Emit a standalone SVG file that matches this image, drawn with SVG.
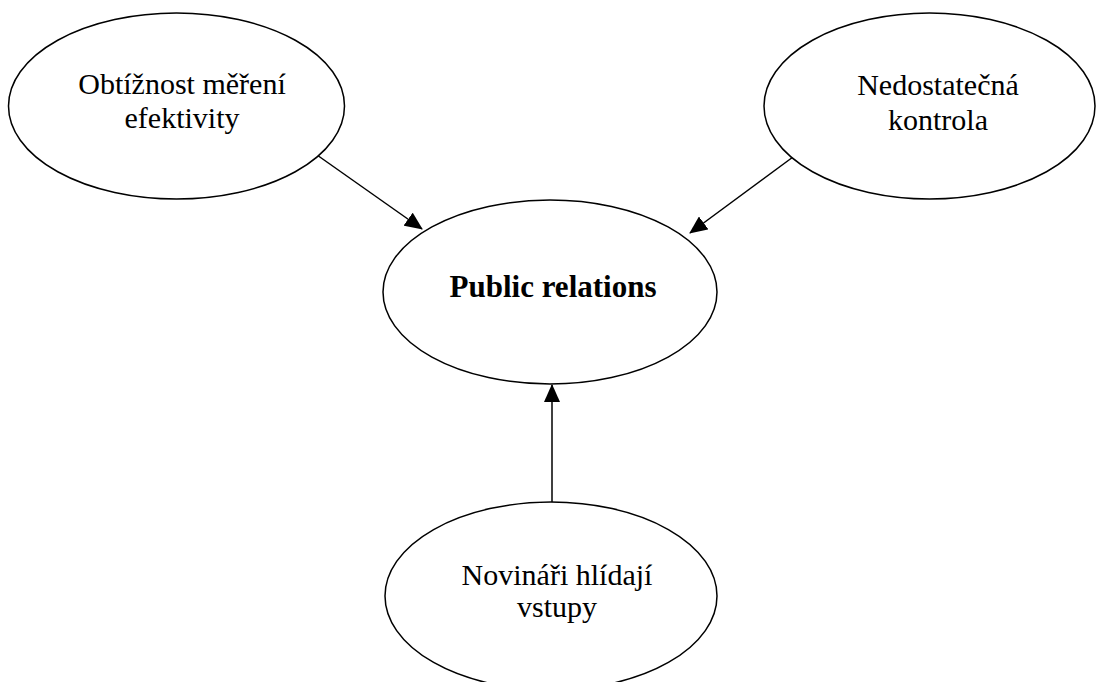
<svg xmlns="http://www.w3.org/2000/svg" width="1097" height="682" viewBox="0 0 1097 682">
  <style>
    .node ellipse { fill: #ffffff; stroke: #000000; stroke-width: 1.5; }
    .lbl { font-family: "Liberation Serif", "Times New Roman", serif; font-size: 30px; fill: #000000; text-anchor: middle; }
    .bold { font-weight: bold; font-size: 31px; }
    .conn line { stroke: #000000; stroke-width: 1.5; fill: none; marker-end: url(#arrow); }
  </style>
  <defs>
    <marker id="arrow" markerUnits="userSpaceOnUse" markerWidth="18" markerHeight="16" refX="17" refY="8" orient="auto">
      <path d="M0,0 L18,8 L0,16 Z" fill="#000000"/>
    </marker>
  </defs>
  <rect width="1097" height="682" fill="#ffffff"/>

  <g id="connectors" class="conn">
    <line x1="317" y1="155" x2="422" y2="229"/>
    <line x1="793" y1="157" x2="690" y2="233"/>
    <line x1="552" y1="502" x2="552" y2="385"/>
  </g>

  <g id="node-obtiznost" class="node">
    <ellipse cx="176.5" cy="106" rx="168" ry="93"/>
    <text class="lbl" x="182" y="94">Obtížnost měření</text>
    <text class="lbl" x="182" y="128">efektivity</text>
  </g>

  <g id="node-kontrola" class="node">
    <ellipse cx="929.5" cy="106" rx="165.5" ry="93"/>
    <text class="lbl" x="938" y="95">Nedostatečná</text>
    <text class="lbl" x="938" y="130">kontrola</text>
  </g>

  <g id="node-pr" class="node">
    <ellipse cx="550" cy="292" rx="167" ry="92"/>
    <text class="lbl bold" x="553" y="297">Public relations</text>
  </g>

  <g id="node-novinari" class="node">
    <ellipse cx="551" cy="596" rx="166" ry="94"/>
    <text class="lbl" x="557" y="585">Novináři hlídají</text>
    <text class="lbl" x="557" y="617">vstupy</text>
  </g>
</svg>
